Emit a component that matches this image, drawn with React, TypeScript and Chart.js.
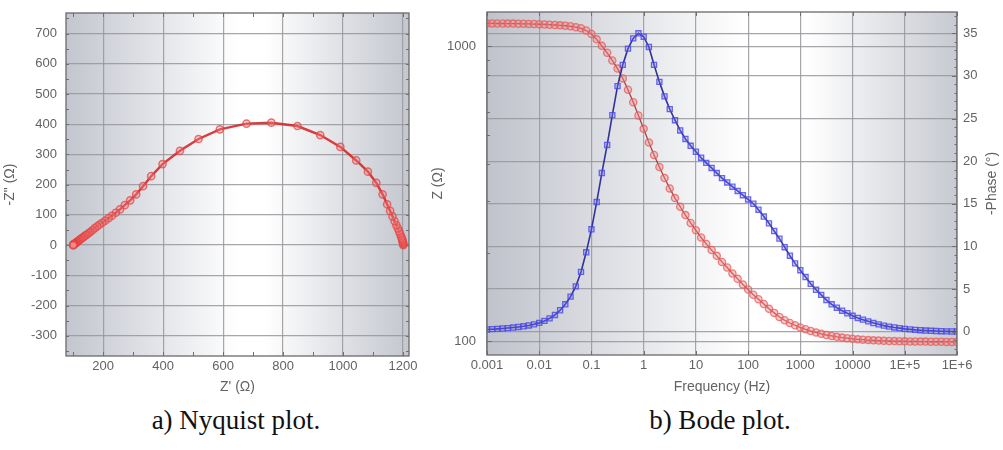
import React, { useEffect, useRef } from 'react';
import { Chart, registerables } from 'chart.js';

Chart.register(...registerables);

// ---------------- Nyquist plot data (low frequency -> high frequency) ----------------
const nyquistZReal = [
  1201, 1201, 1200, 1200, 1199, 1198, 1197, 1195, 1193, 1190,
  1187, 1183, 1178, 1172, 1165, 1157, 1147, 1132, 1111, 1083,
  1044, 991, 924, 848, 761, 678, 589, 518, 456, 398,
  360, 333, 310, 290, 272, 256, 242, 229, 218, 207,
  197, 188, 180, 172, 165, 158, 152, 146, 141, 136,
  132, 128, 124, 121, 118, 115, 113, 111, 109, 107,
  106, 105, 104, 103, 102.5, 102, 101.5, 101, 100.7, 100.4,
  100.2, 100,
];
const nyquistZImagNeg = [
  0, 3, 6, 9, 12, 16, 20, 25, 31, 38,
  46, 55, 66, 79, 95, 113, 135, 168, 206, 243,
  280, 325, 364, 394, 405, 402, 383, 351, 312, 268,
  228, 195, 168, 148, 132, 118, 107, 97, 89, 81,
  74, 68, 62, 56, 50, 44, 40, 35, 32, 28,
  25, 22, 19, 17, 14.5, 12, 10.5, 9, 7.5, 6,
  5.2, 4.4, 3.7, 3, 2.5, 2, 1.6, 1.2, 0.9, 0.6,
  0.3, 0,
];
const nyquistXTicks = [200, 400, 600, 800, 1000, 1200];
const nyquistYTicks = [-300, -200, -100, 0, 100, 200, 300, 400, 500, 600, 700];

// ---------------- Bode plot data ----------------
const bodeFrequency = [
  0.001, 0.00126, 0.00158, 0.002, 0.00251, 0.00316, 0.00398, 0.00501, 0.00631, 0.00794,
  0.01, 0.0126, 0.0158, 0.02, 0.0251, 0.0316, 0.0398, 0.0501, 0.0631, 0.0794,
  0.1, 0.126, 0.158, 0.2, 0.251, 0.316, 0.398, 0.501, 0.631, 0.794,
  1, 1.26, 1.58, 2, 2.51, 3.16, 3.98, 5.01, 6.31, 7.94,
  10, 12.6, 15.8, 20, 25.1, 31.6, 39.8, 50.1, 63.1, 79.4,
  100, 126, 158, 200, 251, 316, 398, 501, 631, 794,
  1000, 1260, 1580, 2000, 2510, 3160, 3980, 5010, 6310, 7940,
  10000, 12600, 15800, 20000, 25100, 31600, 39800, 50100, 63100, 79400,
  100000, 126000, 158000, 200000, 251000, 316000, 398000, 501000, 631000, 794000,
  1000000,
];
const bodeModulus = [
  1195, 1195, 1194, 1194, 1193, 1193, 1192, 1191, 1190, 1189,
  1187, 1185, 1183, 1180, 1177, 1173, 1168, 1160, 1150, 1130,
  1100, 1055, 1003, 950, 895, 840, 778, 712, 646, 583,
  525, 472, 428, 390, 358, 330, 306, 286, 268, 252,
  238, 225, 214, 204, 195, 186, 178, 170, 163, 156,
  150, 144, 139, 134, 129, 125, 121, 118, 115.5, 113.5,
  111.5, 110, 108.5, 107.3, 106.2, 105.2, 104.4, 103.7, 103.1, 102.6,
  102.1, 101.7, 101.4, 101.1, 100.9, 100.7, 100.5, 100.4, 100.3, 100.2,
  100.1, 100, 100, 99.9, 99.9, 99.8, 99.8, 99.8, 99.7, 99.7,
  99.7,
];
const bodePhase = [
  0.25, 0.28, 0.32, 0.36, 0.41, 0.47, 0.54, 0.62, 0.72, 0.85,
  1.02, 1.25, 1.55, 1.95, 2.5, 3.2, 4.1, 5.3, 7.0, 9.3,
  12.0, 15.2, 18.6, 21.9, 25.4, 28.8, 31.3, 33.2, 34.4, 35.0,
  34.6, 33.4, 31.3, 29.3, 27.6, 26.1, 24.8, 23.6, 22.6, 21.8,
  21.1, 20.4, 19.8, 19.2, 18.6, 18.0, 17.5, 17.0, 16.5, 16.0,
  15.5, 15.0, 14.3, 13.5, 12.7, 11.8, 10.9, 9.9, 8.9, 8.0,
  7.2, 6.4, 5.6, 4.9, 4.3, 3.7, 3.2, 2.8, 2.45, 2.15,
  1.85, 1.6, 1.4, 1.2, 1.0, 0.85, 0.7, 0.58, 0.48, 0.4,
  0.32, 0.26, 0.2, 0.16, 0.12, 0.09, 0.06, 0.04, 0.02, 0.01,
  0.0,
];
const bodeFreqTicks = [0.001, 0.01, 0.1, 1, 10, 100, 1000, 10000, 100000, 1000000];
const bodeFreqTickLabels = ['0.001', '0.01', '0.1', '1', '10', '100', '1000', '10000', '1E+5', '1E+6'];
const bodeModulusTicks = [100, 1000];
const bodeModulusMinor = [200, 300, 400, 500, 600, 700, 800, 900];
const bodePhaseTicks = [0, 5, 10, 15, 20, 25, 30, 35];

const FONT = "'Liberation Sans', Arial, sans-serif";
const TEXT = '#636363';
const GRID = 'rgba(150,150,156,0.85)';

const framePlugin = {
  id: 'frame',
  beforeDraw(chart: any, _args: any, opts: any) {
    const { ctx, chartArea: a } = chart;
    const g = ctx.createLinearGradient(a.left, 0, a.right, 0);
    for (const [p, c] of opts.stops) g.addColorStop(p, c);
    ctx.save();
    ctx.fillStyle = g;
    ctx.fillRect(a.left, a.top, a.width, a.height);
    ctx.restore();
  },
  afterDraw(chart: any, _args: any, opts: any) {
    const { ctx, chartArea: a } = chart;
    ctx.save();
    ctx.strokeStyle = '#707070';
    ctx.lineWidth = 1;
    for (const m of opts.marks || []) {
      const s = chart.scales[m.scale];
      for (const v of m.values) {
        const p = Math.round(s.getPixelForValue(v)) + 0.5;
        ctx.beginPath();
        if (s.isHorizontal()) {
          ctx.moveTo(p, a.bottom); ctx.lineTo(p, a.bottom - m.len);
          ctx.moveTo(p, a.top); ctx.lineTo(p, a.top + m.len);
        } else {
          if (m.left) { ctx.moveTo(a.left, p); ctx.lineTo(a.left + m.len, p); }
          if (m.right) { ctx.moveTo(a.right, p); ctx.lineTo(a.right - m.len, p); }
        }
        ctx.stroke();
      }
    }
    ctx.lineWidth = 1.3;
    ctx.strokeStyle = '#6a6a6a';
    ctx.strokeRect(a.left, a.top, a.width, a.height);
    if (opts.rightTitle) {
      ctx.fillStyle = TEXT;
      ctx.font = `14px ${FONT}`;
      ctx.textAlign = 'center';
      ctx.textBaseline = 'middle';
      ctx.translate(opts.rightTitle.x, (a.top + a.bottom) / 2);
      ctx.rotate(-Math.PI / 2);
      ctx.fillText(opts.rightTitle.text, 0, 0);
    }
    ctx.restore();
  },
};

const zeroPad = (s: any) => { s.paddingTop = 0; s.paddingBottom = 0; s.paddingLeft = 0; s.paddingRight = 0; };
const setTicks = (vals: number[]) => (s: any) => { s.ticks = vals.map((v) => ({ value: v })); };

function range(a: number, b: number, step: number) {
  const out: number[] = [];
  for (let v = a; v <= b + 1e-9; v += step) out.push(v);
  return out;
}

function nyquistConfig(): any {
  return {
    type: 'scatter',
    data: {
      datasets: [
        {
          data: nyquistZReal.map((x, i) => ({ x, y: nyquistZImagNeg[i] })),
          showLine: true,
          borderColor: 'rgba(214,40,40,0.9)',
          borderWidth: 2.4,
          pointStyle: 'circle',
          pointRadius: 3.6,
          pointBorderWidth: 1.5,
          pointBorderColor: 'rgba(228,70,70,0.75)',
          pointBackgroundColor: 'rgba(240,140,140,0.35)',
          tension: 0,
        },
      ],
    },
    options: {
      responsive: false,
      animation: false,
      devicePixelRatio: 1,
      layout: { padding: { left: 0, right: 21, top: 13, bottom: 0 } },
      plugins: {
        legend: { display: false },
        tooltip: { enabled: false },
        frame: {
          stops: [[0, '#c3c6cf'], [0.5, '#ffffff'], [0.58, '#ffffff'], [1, '#c4c7cf']],
          marks: [
            { scale: 'x', values: range(100, 1200, 100), len: 4 },
            { scale: 'y', values: range(-350, 750, 50), len: 3, left: true, right: true },
          ],
        },
      },
      scales: {
        x: {
          type: 'linear',
          min: 76,
          max: 1220,
          afterBuildTicks: setTicks(nyquistXTicks),
          afterFit: (s: any) => { s.height = 44; zeroPad(s); },
          grid: { color: GRID, lineWidth: 1.2, drawTicks: false },
          border: { display: false },
          ticks: { color: TEXT, font: { size: 13, family: FONT }, padding: 3, maxRotation: 0, callback: (v: any) => String(v) },
          title: { display: true, text: "Z' (Ω)", color: TEXT, font: { size: 14, family: FONT }, padding: { top: 0, bottom: 4 } },
        },
        y: {
          type: 'linear',
          min: -367,
          max: 768,
          afterBuildTicks: setTicks(nyquistYTicks),
          afterFit: (s: any) => { s.width = 66; zeroPad(s); },
          grid: { color: GRID, lineWidth: 1.2, drawTicks: false },
          border: { display: false },
          ticks: { color: TEXT, font: { size: 13, family: FONT }, padding: 9, callback: (v: any) => String(v) },
          title: { display: true, text: '-Z" (Ω)', color: TEXT, font: { size: 14, family: FONT }, padding: { top: 2, bottom: 0 } },
        },
      },
    },
    plugins: [framePlugin],
  };
}

function bodeConfig(): any {
  return {
    type: 'line',
    data: {
      datasets: [
        {
          label: '-Phase',
          yAxisID: 'y1',
          data: bodeFrequency.map((x, i) => ({ x, y: bodePhase[i] })),
          borderColor: 'rgba(40,40,150,0.95)',
          borderWidth: 1.6,
          pointStyle: 'rect',
          pointRadius: 3.6,
          pointBorderWidth: 1.3,
          pointBorderColor: 'rgba(70,70,235,0.8)',
          pointBackgroundColor: 'rgba(130,130,245,0.3)',
          tension: 0,
        },
        {
          label: 'Z',
          yAxisID: 'y',
          data: bodeFrequency.map((x, i) => ({ x, y: bodeModulus[i] })),
          borderColor: 'rgba(150,40,40,0.85)',
          borderWidth: 1.3,
          pointStyle: 'circle',
          pointRadius: 3.6,
          pointBorderWidth: 1.3,
          pointBorderColor: 'rgba(232,80,80,0.7)',
          pointBackgroundColor: 'rgba(242,140,140,0.45)',
          tension: 0,
        },
      ],
    },
    options: {
      responsive: false,
      animation: false,
      devicePixelRatio: 1,
      layout: { padding: { left: 0, right: 0, top: 12, bottom: 0 } },
      plugins: {
        legend: { display: false },
        tooltip: { enabled: false },
        frame: {
          stops: [[0, '#c0c3cc'], [0.55, '#ffffff'], [0.68, '#ffffff'], [1, '#c7cad1']],
          marks: [
            { scale: 'x', values: bodeFreqTicks, len: 4 },
            { scale: 'y', values: bodeModulusMinor, len: 3, left: true },
            { scale: 'y', values: bodeModulusTicks, len: 5, left: true },
            { scale: 'y1', values: range(-2, 37, 1), len: 2.5, right: true },
            { scale: 'y1', values: bodePhaseTicks, len: 5, right: true },
          ],
          rightTitle: { text: '-Phase (°)', x: 562 },
        },
      },
      scales: {
        x: {
          type: 'logarithmic',
          position: 'bottom',
          min: 0.001,
          max: 1000000,
          afterBuildTicks: setTicks(bodeFreqTicks),
          afterFit: (s: any) => { s.height = 45; zeroPad(s); },
          grid: { color: GRID, lineWidth: 1.2, drawTicks: false },
          border: { display: false },
          ticks: {
            color: TEXT, font: { size: 13, family: FONT }, padding: 3, maxRotation: 0, autoSkip: false,
            callback: (v: any) => bodeFreqTickLabels[bodeFreqTicks.indexOf(v)] ?? '',
          },
          title: { display: true, text: 'Frequency (Hz)', color: TEXT, font: { size: 14, family: FONT }, padding: { top: 0, bottom: 4 } },
        },
        y: {
          type: 'logarithmic',
          position: 'left',
          min: 90,
          max: 1306,
          afterBuildTicks: setTicks(bodeModulusTicks),
          afterFit: (s: any) => { s.width = 57; zeroPad(s); },
          grid: { color: GRID, lineWidth: 1.2, drawTicks: false },
          border: { display: false },
          ticks: { color: TEXT, font: { size: 13, family: FONT }, padding: 11, callback: (v: any) => String(v) },
          title: { display: true, text: 'Z (Ω)', color: TEXT, font: { size: 14, family: FONT }, padding: { top: 0, bottom: 0 } },
        },
        y1: {
          type: 'linear',
          position: 'right',
          min: -2.75,
          max: 37.5,
          afterBuildTicks: setTicks(bodePhaseTicks),
          afterFit: (s: any) => { s.width = 46; zeroPad(s); },
          grid: { color: GRID, lineWidth: 1.2, drawTicks: false },
          border: { display: false },
          ticks: { color: TEXT, font: { size: 13, family: FONT }, padding: 6, callback: (v: any) => String(v) },
          title: { display: false },
        },
      },
    },
    plugins: [framePlugin],
  };
}

function ChartBox({ make, left, width, height }: { make: () => any; left: number; width: number; height: number }) {
  const ref = useRef<HTMLCanvasElement | null>(null);
  useEffect(() => {
    const chart = new Chart(ref.current as HTMLCanvasElement, make());
    return () => chart.destroy();
  }, [make]);
  return (
    <div style={{ position: 'absolute', left, top: 0, width, height }}>
      <canvas ref={ref} width={width} height={height} style={{ width, height, display: 'block' }} />
    </div>
  );
}

const captionStyle: React.CSSProperties = {
  position: 'absolute',
  top: 404,
  width: 320,
  textAlign: 'center',
  fontFamily: "'Liberation Serif', 'Times New Roman', serif",
  fontSize: 27,
  lineHeight: '32px',
  color: '#111',
  whiteSpace: 'nowrap',
};

export default function App() {
  return (
    <div style={{ position: 'absolute', left: 0, top: 0, width: 1003, height: 450, background: '#fff', overflow: 'hidden' }}>
      <ChartBox make={nyquistConfig} left={0} width={430} height={400} />
      <ChartBox make={bodeConfig} left={430} width={573} height={400} />
      <div style={{ ...captionStyle, left: 76 }}>a) Nyquist plot.</div>
      <div style={{ ...captionStyle, left: 560 }}>b) Bode plot.</div>
    </div>
  );
}
